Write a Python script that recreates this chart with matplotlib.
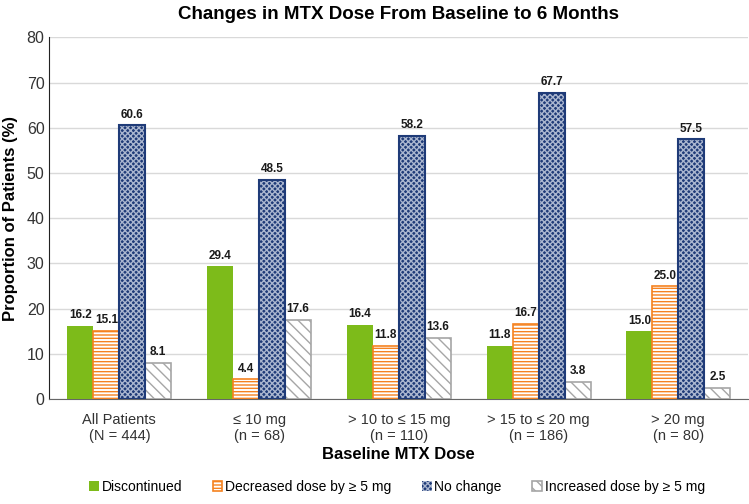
import numpy as np
import matplotlib
matplotlib.use("Agg")
import matplotlib.pyplot as plt

plt.rcParams['font.family'] = ['Liberation Sans', 'DejaVu Sans']
plt.rcParams['hatch.linewidth'] = 1.0

# data
categories = ["All Patients\n(N = 444)", "≤ 10 mg\n(n = 68)", "> 10 to ≤ 15 mg\n(n = 110)",
              "> 15 to ≤ 20 mg\n(n = 186)", "> 20 mg\n(n = 80)"]
series_names = ["Discontinued", "Decreased dose by ≥ 5 mg", "No change", "Increased dose by ≥ 5 mg"]
discontinued = [16.2, 29.4, 16.4, 11.8, 15.0]
decreased = [15.1, 4.4, 11.8, 16.7, 25.0]
no_change = [60.6, 48.5, 58.2, 67.7, 57.5]
increased = [8.1, 17.6, 13.6, 3.8, 2.5]

fig = plt.figure(figsize=(7.49, 5.04), dpi=100)
ax = fig.add_axes([0.066, 0.208, 0.933, 0.718])

x = np.arange(len(categories))
w = 0.186
offs = [-1.5 * w, -0.5 * w, 0.5 * w, 1.5 * w]

green = '#7dbb1a'
orange = '#f5821f'
navy = '#1f3b78'
gray = '#a6a6a6'

# bars
b1 = ax.bar(x + offs[0], discontinued, w, color=green, edgecolor=green, linewidth=0, zorder=3)
b2 = ax.bar(x + offs[1], decreased, w, facecolor='white', edgecolor=orange, hatch='-----', linewidth=1.2, zorder=3)
b3 = ax.bar(x + offs[2], no_change, w, facecolor=navy, edgecolor='#aab6cf', hatch='xxxxxx', linewidth=0, zorder=3)
ax.bar(x + offs[2], no_change, w, facecolor='none', edgecolor=navy, linewidth=1.5, zorder=4)
b4 = ax.bar(x + offs[3], increased, w, facecolor='white', edgecolor=gray, hatch='\\\\\\', linewidth=1.2, zorder=3)

for vals, off in zip([discontinued, decreased, no_change, increased], offs):
    for xi, v in zip(x, vals):
        ax.text(xi + off, v + 1.0, f"{v:.1f}", ha='center', va='bottom', fontsize=8.5,
                fontweight='bold', color='#1a1a1a', zorder=5)

ax.set_ylim(0, 80)
ax.set_xlim(-0.5, len(categories) - 0.5)
ax.set_yticks(range(0, 81, 10))
ax.set_xticks(x)
ax.set_xticklabels(categories, fontsize=10, color='#333333')
ax.tick_params(axis='both', length=0, labelsize=11.5, colors='#333333')
ax.tick_params(axis='x', labelsize=10.5, pad=10)
ax.yaxis.grid(True, color='#d9d9d9', linewidth=1, zorder=0)
ax.set_axisbelow(True)
for s in ['top', 'right']:
    ax.spines[s].set_visible(False)
ax.spines['left'].set_color('#222222')
ax.spines['bottom'].set_color('#666666')

ax.set_ylabel("Proportion of Patients (%)", fontsize=12, fontweight='bold', labelpad=6)
ax.set_xlabel("Baseline MTX Dose", fontsize=12, fontweight='bold', labelpad=3)
ax.set_title("Changes in MTX Dose From Baseline to 6 Months", fontsize=13.5, fontweight='bold', pad=13)

fig.legend([b1, b2, b3, b4], series_names, loc='lower center', bbox_to_anchor=(0.53, -0.005),
           ncol=4, frameon=False, fontsize=10, handlelength=0.7, handleheight=0.7,
           handletextpad=0.2, columnspacing=2.2)

fig.savefig("out.png", dpi=100)
